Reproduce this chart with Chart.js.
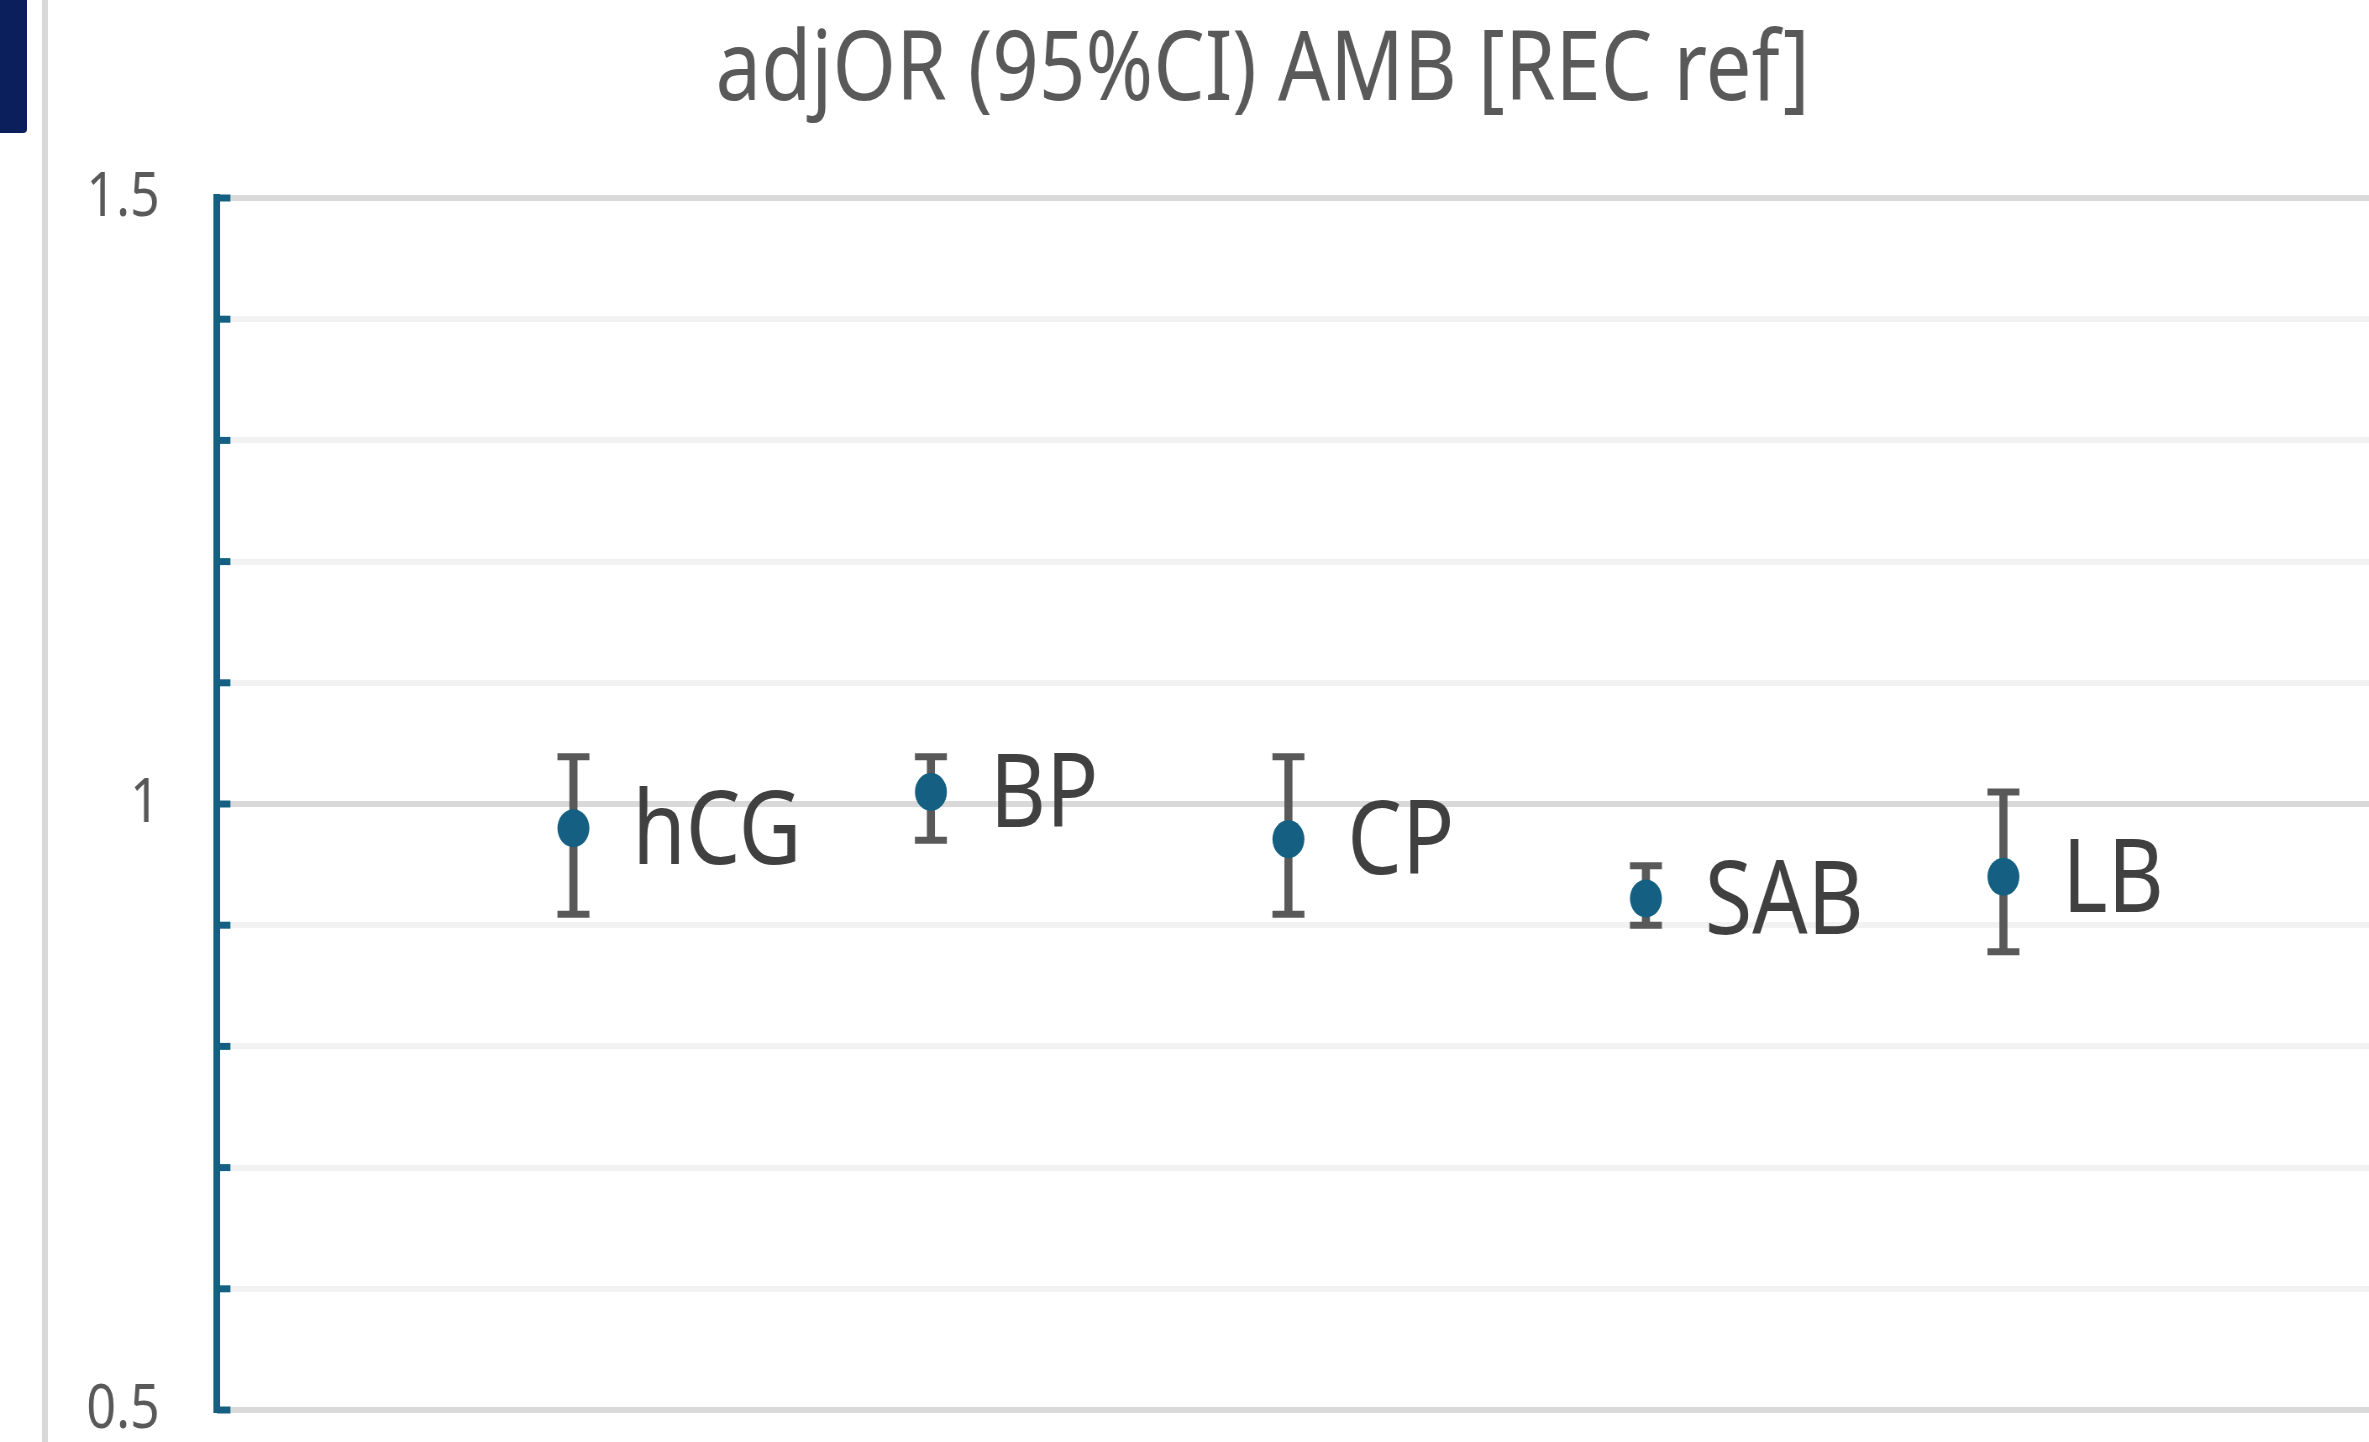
<!DOCTYPE html>
<html>
<head>
<meta charset="utf-8">
<script src="https://cdn.jsdelivr.net/npm/chart.js@4.4.1/dist/chart.umd.min.js"></script>
<style>
  html, body { margin: 0; padding: 0; background: #fff; overflow: hidden; }
  #wrap { position: relative; width: 2369px; height: 1442px; overflow: hidden; }
  #tab { position: absolute; left: 0; top: 0; width: 27px; height: 133px; background: #0b1f5c; border-bottom-right-radius: 4px; }
  #rule { position: absolute; left: 42px; top: 0; width: 6px; height: 1442px; background: #d9d9d9; }
  /* original picture is squeezed horizontally, so draw wider and squeeze */
  #c { position: absolute; left: 0; top: 0; transform: scaleX(0.84); transform-origin: 0 0; }
</style>
</head>
<body>
<div id="wrap">
  <canvas id="c" width="2820" height="1442" style="width:2820px;height:1442px"></canvas>
  <div id="rule"></div>
  <div id="tab"></div>
</div>
<script>
var categories = ["hCG", "BP", "CP", "SAB", "LB"];
var orValues = [0.980, 1.010, 0.971, 0.922, 0.940];
var ciLower = [0.909, 0.970, 0.909, 0.900, 0.878];
var ciUpper = [1.039, 1.039, 1.039, 0.949, 1.010];
var yTickValues = [0.5, 1, 1.5];
var yTickLabels = ["0.5", "1", "1.5"];
var titleText = "adjOR (95%CI) AMB [REC ref]";

var FONT = "'Noto Sans', sans-serif";
var AXIS_BLUE = "#156082";

var pointData = categories.map(function (c, i) { return { x: i + 1, y: orValues[i] }; });
var barData = categories.map(function (c, i) { return { x: i + 1, y: [ciLower[i], ciUpper[i]] }; });
var capData = [];
categories.forEach(function (c, i) {
  capData.push({ x: i + 1, y: ciLower[i] });
  capData.push({ x: i + 1, y: ciUpper[i] });
});

function isMajor(v) {
  return yTickValues.some(function (t) { return Math.abs(t - v) < 1e-9; });
}

// title sits a bit right of the canvas centre, like in the slide
var chartTitle = {
  id: "chartTitle",
  afterDraw: function (chart) {
    var ctx = chart.ctx;
    ctx.save();
    ctx.font = "97px " + FONT;
    ctx.fillStyle = "#595959";
    ctx.textAlign = "center";
    ctx.textBaseline = "alphabetic";
    ctx.fillText(titleText, chart.width * 0.533, 100);
    ctx.restore();
  }
};

// little tick marks on the inner side of the y axis
var innerTicks = {
  id: "innerTicks",
  afterDatasetsDraw: function (chart) {
    var ctx = chart.ctx, y = chart.scales.y, left = chart.chartArea.left;
    ctx.save();
    ctx.strokeStyle = AXIS_BLUE;
    ctx.lineWidth = 7;
    y.ticks.forEach(function (t) {
      var py = y.getPixelForValue(t.value);
      ctx.beginPath();
      ctx.moveTo(left, py);
      ctx.lineTo(left + 16, py);
      ctx.stroke();
    });
    ctx.restore();
  }
};

// category names right of each point
var pointLabels = {
  id: "pointLabels",
  afterDatasetsDraw: function (chart) {
    var ctx = chart.ctx;
    var meta = chart.getDatasetMeta(2);
    ctx.save();
    ctx.font = "103px " + FONT;
    ctx.fillStyle = "#404040";
    ctx.textAlign = "left";
    ctx.textBaseline = "middle";
    meta.data.forEach(function (el, i) {
      ctx.fillText(categories[i], el.x + 70, el.y + 6);
    });
    ctx.restore();
  }
};

var ctx = document.getElementById("c").getContext("2d");
var myChart = new Chart(ctx, {
  type: "scatter",
  data: {
    datasets: [
      {
        type: "bar",
        data: barData,
        backgroundColor: "#595959",
        borderWidth: 0,
        barThickness: 9,
        order: 3,
      },
      {
        type: "scatter",
        data: capData,
        pointStyle: "line",
        pointRadius: 19,
        borderColor: "#595959",
        borderWidth: 7,
        order: 2,
      },
      {
        type: "scatter",
        data: pointData,
        pointRadius: 19,
        backgroundColor: AXIS_BLUE,
        borderColor: AXIS_BLUE,
        borderWidth: 0,
        order: 1,
      },
    ],
  },
  options: {
    responsive: false,
    devicePixelRatio: 1,
    animation: false,
    layout: { autoPadding: false, padding: { left: 0, right: 0, top: 198, bottom: 32 } },
    scales: {
      x: {
        type: "linear",
        display: false,
        offset: false,
        min: 0.003,
        max: 6.022,
      },
      y: {
        min: 0.5,
        max: 1.5,
        afterFit: function (scale) { scale.width = 258.3; },
        border: { color: AXIS_BLUE, width: 8 },
        grid: {
          drawTicks: true,
          tickLength: 68,
          tickColor: "rgba(0,0,0,0)",
          lineWidth: 6,
          color: function (c) { return isMajor(c.tick.value) ? "#d9d9d9" : "#f2f2f2"; },
        },
        ticks: {
          stepSize: 0.1,
          autoSkip: false,
          maxTicksLimit: 20,
          padding: 0,
          color: "#595959",
          font: { family: FONT, size: 62, lineHeight: 1 },
          callback: function (v) {
            for (var i = 0; i < yTickValues.length; i++) {
              if (Math.abs(yTickValues[i] - v) < 1e-9) return yTickLabels[i];
            }
            return "";
          },
        },
      },
    },
    plugins: {
      legend: { display: false },
      tooltip: { enabled: false },
      title: { display: false },
    },
  },
  plugins: [chartTitle, innerTicks, pointLabels],
});
</script>
</body>
</html>
